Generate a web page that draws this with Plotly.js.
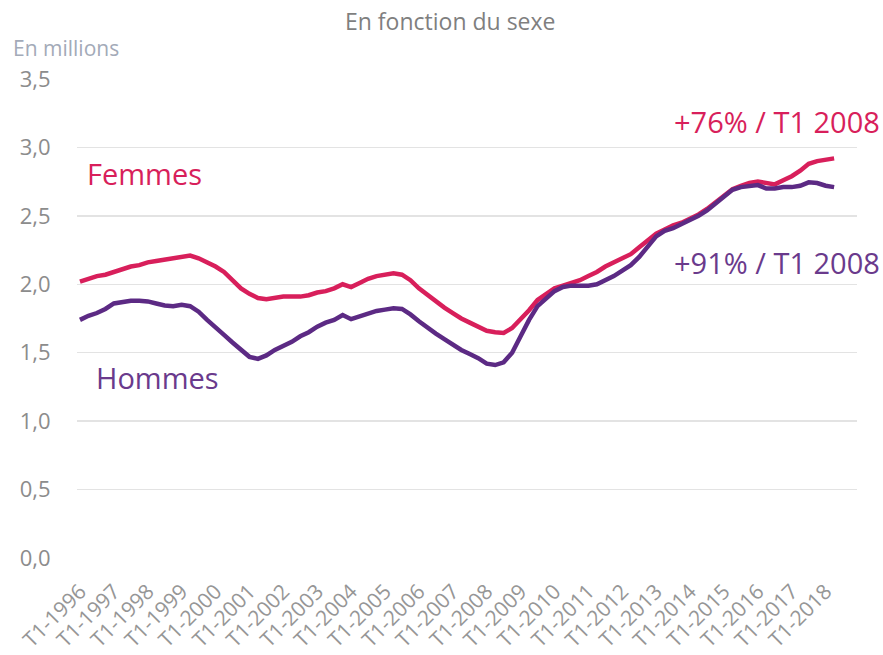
<!DOCTYPE html>
<html>
<head>
<meta charset="utf-8">
<script src="https://cdn.plot.ly/plotly-3.0.1.min.js"></script>
<style>html,body{margin:0;padding:0;background:#fff;}#chart{width:883px;height:655px;}</style>
</head>
<body>
<div id="chart"></div>
<script>
// Years covered (quarterly data, T1-1996 .. T2-2018)
const years = [1996,1997,1998,1999,2000,2001,2002,2003,2004,2005,2006,2007,2008,2009,2010,2011,2012,2013,2014,2015,2016,2017,2018];
const quartersPerYear = ["T1","T2","T3","T4"];
const lastQuarterCount = 2; // 2018 : T1, T2

// Femmes, in millions
const femmes = [
  2.02,2.04,2.06,2.07, 2.09,2.11,2.13,2.14, 2.16,2.17,2.18,2.19, 2.20,2.21,2.19,2.16,
  2.13,2.09,2.03,1.97, 1.93,1.90,1.89,1.90, 1.91,1.91,1.91,1.92, 1.94,1.95,1.97,2.00,
  1.98,2.01,2.04,2.06, 2.07,2.08,2.07,2.03, 1.97,1.92,1.88,1.83, 1.79,1.75,1.72,1.69,
  1.66,1.65,1.645,1.68, 1.74,1.81,1.885,1.93, 1.97,1.99,2.01,2.03, 2.06,2.09,2.13,2.16,
  2.19,2.22,2.27,2.32, 2.37,2.40,2.43,2.45, 2.48,2.51,2.55,2.60, 2.65,2.695,2.72,2.74,
  2.75,2.74,2.73,2.76, 2.79,2.83,2.88,2.90, 2.91,2.92
];
// Hommes, in millions
const hommes = [
  1.74,1.77,1.79,1.82, 1.86,1.87,1.88,1.88, 1.875,1.86,1.845,1.84, 1.85,1.84,1.80,1.74,
  1.68,1.63,1.575,1.52, 1.47,1.455,1.48,1.52, 1.55,1.58,1.62,1.65, 1.69,1.72,1.74,1.775,
  1.745,1.765,1.79,1.805, 1.815,1.825,1.82,1.78, 1.73,1.68,1.64,1.60, 1.555,1.52,1.49,1.46,
  1.42,1.41,1.43,1.50, 1.62,1.74,1.84,1.90, 1.95,1.98,1.99,1.99, 1.99,2.00,2.03,2.06,
  2.10,2.14,2.20,2.28, 2.35,2.39,2.41,2.44, 2.47,2.50,2.54,2.59, 2.64,2.69,2.71,2.72,
  2.725,2.70,2.70,2.71, 2.71,2.72,2.745,2.74, 2.72,2.71
];
const yTicks = [0,0.5,1,1.5,2,2.5,3,3.5];

// Build quarter categories
const quarters = [];
years.forEach((y, yi) => {
  const n = (yi === years.length - 1) ? lastQuarterCount : 4;
  for (let q = 0; q < n; q++) quarters.push(quartersPerYear[q] + "-" + y);
});
const xTickVals = years.map(y => "T1-" + y);

const cF = "#d81f5b", cH = "#5c2a84";
const gray = "#8c8c8c";

const traces = [
  {x: quarters, y: femmes, type: "scatter", mode: "lines", name: "Femmes",
   line: {color: cF, width: 4.5}},
  {x: quarters, y: hommes, type: "scatter", mode: "lines", name: "Hommes",
   line: {color: cH, width: 4.5}}
];

const layout = {
  width: 883, height: 655,
  margin: {l: 77, r: 26, t: 79, b: 97},
  paper_bgcolor: "#fff", plot_bgcolor: "#fff",
  showlegend: false,
  separators: ", ",
  font: {family: "'Open Sans', sans-serif", color: gray},
  xaxis: {
    type: "category",
    range: [-0.35, 91.7],
    tickmode: "array", tickvals: xTickVals, ticktext: xTickVals,
    tickangle: -45, tickfont: {size: 21, color: "#969696"},
    showgrid: false, zeroline: false, showline: false,
    ticks: "outside", ticklen: 12, tickcolor: "rgba(0,0,0,0)"
  },
  yaxis: {
    range: [0, 3.5], tickvals: yTicks, tickformat: ".1f",
    tickfont: {size: 22, color: gray},
    showgrid: true, gridcolor: "#e3e3e3", gridwidth: 1.5,
    zeroline: false, showline: false,
    ticks: "outside", ticklen: 21, tickcolor: "rgba(0,0,0,0)"
  },
  annotations: [
    {text: "En fonction du sexe", xref: "paper", yref: "paper", x: (450-77)/780, y: (558-21)/479,
     xanchor: "center", yanchor: "middle", showarrow: false, font: {size: 23, color: "#7f7f7f"}},
    {text: "En millions", xref: "paper", yref: "paper", x: (11-77)/780, y: (558-48)/479,
     xanchor: "left", yanchor: "middle", showarrow: false, font: {size: 21, color: "#a3aab8"}},
    {text: "Femmes", xref: "paper", yref: "paper", x: (85-77)/780, y: (558-173)/479,
     xanchor: "left", yanchor: "middle", showarrow: false, font: {size: 29, color: cF}},
    {text: "Hommes", xref: "paper", yref: "paper", x: (94-77)/780, y: (558-377)/479,
     xanchor: "left", yanchor: "middle", showarrow: false, font: {size: 29, color: "#6a3a8c"}},
    {text: "+76% / T1 2008", xref: "paper", yref: "paper", x: (882-77)/780, y: (558-122)/479,
     xanchor: "right", yanchor: "middle", showarrow: false, font: {size: 29, color: cF}},
    {text: "+91% / T1 2008", xref: "paper", yref: "paper", x: (882-77)/780, y: (558-262)/479,
     xanchor: "right", yanchor: "middle", showarrow: false, font: {size: 29, color: "#6a3a8c"}}
  ]
};

Plotly.newPlot("chart", traces, layout, {displayModeBar: false, staticPlot: true});
</script>
</body>
</html>
